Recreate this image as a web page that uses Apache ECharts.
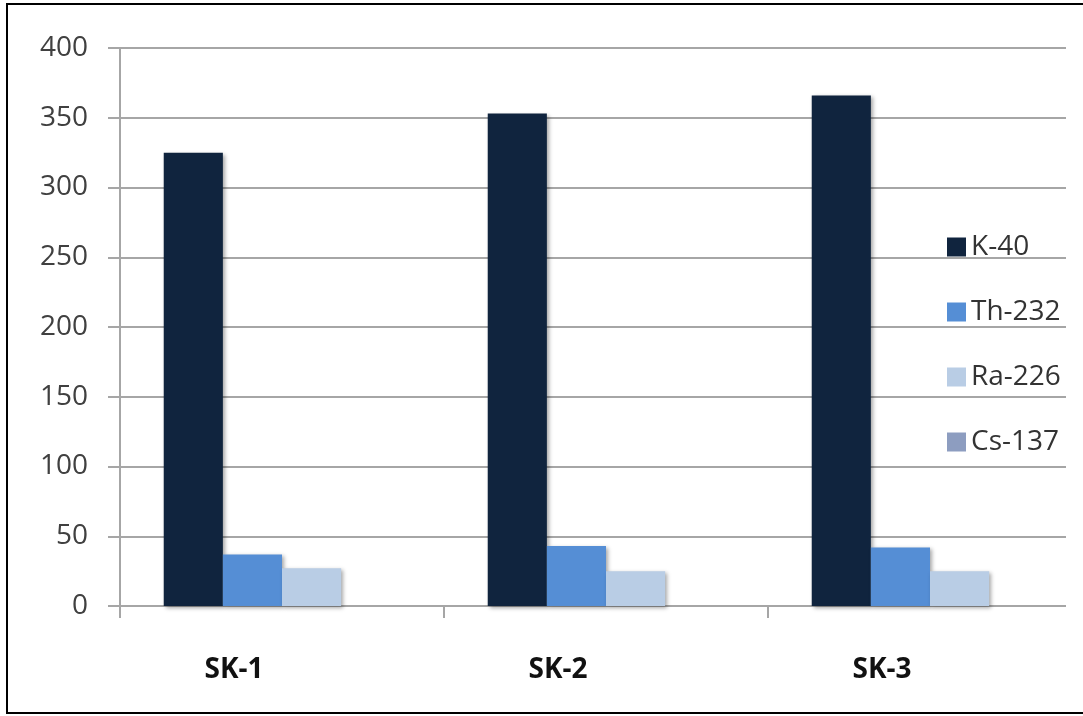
<!DOCTYPE html>
<html>
<head>
<meta charset="utf-8">
<script src="https://cdn.jsdelivr.net/npm/echarts@6/dist/echarts.min.js"></script>
<style>
    html, body { margin: 0; padding: 0; background: #fff; }
    #echart1 { width: 1083px; height: 716px; }
</style>
</head>
<body>
<div id="echart1"></div>
<script>
var categories = ['SK-1', 'SK-2', 'SK-3'];
var seriesNames = ['K-40', 'Th-232', 'Ra-226', 'Cs-137'];
var k40 = [325, 353, 366];
var th232 = [37, 43, 42];
var ra226 = [27, 25, 25];
var cs137 = [0, 0, 0];
var yTicks = [0, 50, 100, 150, 200, 250, 300, 350, 400];

var colors = ['#10243e', '#558ed5', '#b9cde5', '#8d9dc0'];

var myChart = echarts.init(document.getElementById('echart1'));

function barSeries(name, data, color) {
    return {
        name: name,
        type: 'bar',
        data: data,
        barGap: '0%',
        barCategoryGap: '27%',
        itemStyle: {
            color: color,
            shadowColor: 'rgba(0,0,0,0.35)',
            shadowBlur: 4,
            shadowOffsetX: 2,
            shadowOffsetY: 2
        }
    };
}

var option = {
    backgroundColor: '#fff',
    animation: false,
    textStyle: { fontFamily: 'Open Sans' },
    grid: {
        left: 120,
        top: 48,
        width: 972,
        height: 558,
        containLabel: false,
        outerBoundsMode: 'none'
    },
    legend: {
        orient: 'vertical',
        left: 942,
        top: 228,
        icon: 'rect',
        itemWidth: 19,
        itemHeight: 19,
        itemGap: 37,
        data: seriesNames,
        textStyle: {
            fontFamily: 'Open Sans',
            fontSize: 28,
            lineHeight: 28,
            color: '#333'
        }
    },
    xAxis: {
        type: 'category',
        data: categories,
        axisLine: { lineStyle: { color: '#a6a6a6', width: 2 } },
        axisTick: { show: true, length: 12, lineStyle: { color: '#a6a6a6', width: 2 } },
        axisLabel: {
            margin: 50,
            fontFamily: 'Open Sans',
            fontSize: 28,
            fontWeight: 'bold',
            lineHeight: 28,
            color: '#111',
            padding: [0, 96, 0, 0]
        }
    },
    yAxis: {
        type: 'value',
        min: yTicks[0],
        max: yTicks[yTicks.length - 1],
        interval: yTicks[1] - yTicks[0],
        axisLine: { show: true, lineStyle: { color: '#a6a6a6', width: 2 } },
        axisTick: { show: true, length: 12, lineStyle: { color: '#a6a6a6', width: 2 } },
        axisLabel: {
            margin: 32,
            fontFamily: 'Open Sans',
            fontSize: 28,
            color: '#404040'
        },
        splitLine: { lineStyle: { color: '#a6a6a6', width: 2 } }
    },
    graphic: [
        {
            type: 'rect',
            z: 100,
            shape: { x: 1066, y: 20, width: 30, height: 600 },
            style: { fill: '#fff' }
        },
        {
            type: 'rect',
            z: 101,
            shape: { x: 7, y: 4, width: 1090, height: 709 },
            style: { fill: null, stroke: '#000', lineWidth: 2 }
        }
    ],
    series: [
        barSeries(seriesNames[0], k40, colors[0]),
        barSeries(seriesNames[1], th232, colors[1]),
        barSeries(seriesNames[2], ra226, colors[2]),
        barSeries(seriesNames[3], cs137, colors[3])
    ]
};

myChart.setOption(option);
window.addEventListener("resize", function () {
    myChart.resize();
});
</script>
</body>
</html>
